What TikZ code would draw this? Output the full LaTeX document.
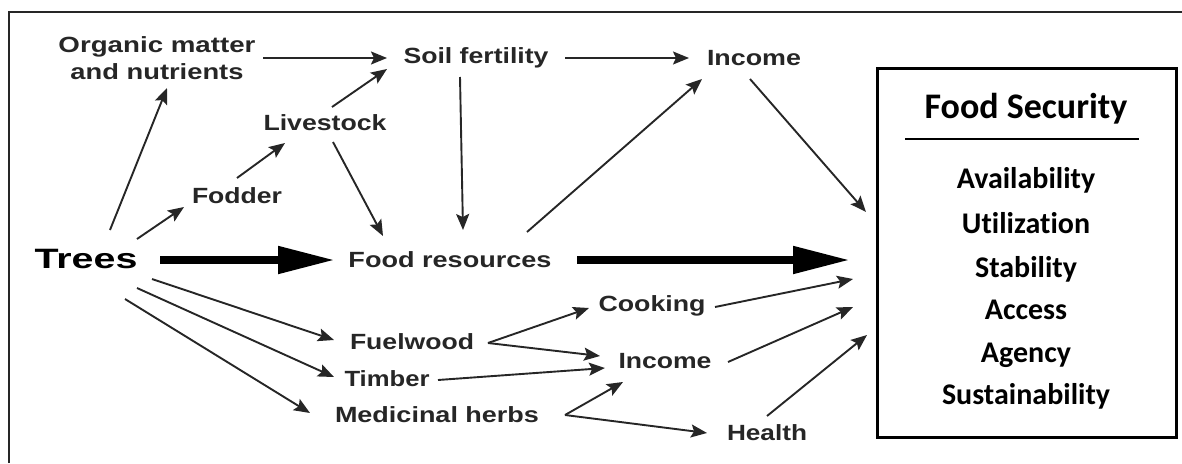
\documentclass[tikz,border=0pt]{standalone}
\usepackage{fontspec}
\setmainfont{Liberation Sans}
\newfontfamily\calibfont[Ligatures=NoCommon]{Carlito}
\usetikzlibrary{arrows.meta}

\definecolor{ink}{HTML}{262626}

% stretch a label horizontally to a given width, keeping its height
\newcommand{\wtext}[2]{\resizebox{#1pt}{\height}{#2}}

\tikzset{
  lbl/.style={font=\bfseries\fontsize{22}{27}\selectfont, text=ink, inner sep=0pt, align=center},
  arr/.style={draw=ink, line width=1.9pt, -{Stealth[length=16pt,width=13pt,inset=3pt]}},
  bigarr/.style={draw=black, line width=8pt, -{Triangle[length=57pt,width=26pt]}},
  fsitem/.style={font=\calibfont\bfseries\fontsize{30}{32}\selectfont, inner sep=0pt, anchor=base},
}

\begin{document}
\begin{tikzpicture}[x=1pt,y=-1pt]
\useasboundingbox (0,0) rectangle (1182,463);

% open frame: top and left edges
\draw[ink, line width=2pt] (9,463) -- (9,12) -- (1182,12);

% labels
\node[lbl] (org)  at (157,58)  {\wtext{197}{Organic matter}\\\wtext{173}{and nutrients}};
\node[lbl] (soil) at (476,58)  {\wtext{145}{Soil fertility}};
\node[lbl] (inc1) at (754,58)  {\wtext{94}{Income}};
\node[lbl] (live) at (325,123) {\wtext{123}{Livestock}};
\node[lbl] (fod)  at (237,196) {\wtext{90}{Fodder}};
\node[lbl, font=\bfseries\fontsize{28}{30}\selectfont, text=black] (trees) at (86,259) {\wtext{103}{Trees}};
\node[lbl] (food) at (450,260) {\wtext{203}{Food resources}};
\node[lbl] (fuel) at (412,342) {\wtext{124}{Fuelwood}};
\node[lbl] (timb) at (387,379) {\wtext{85}{Timber}};
\node[lbl] (med)  at (437,415) {\wtext{204}{Medicinal herbs}};
\node[lbl] (cook) at (652,306) {\wtext{107}{Cooking}};
\node[lbl] (inc2) at (665,361) {\wtext{93}{Income}};
\node[lbl] (hlth) at (767,433) {\wtext{80}{Health}};

% food security box
\node[draw=black, line width=3pt, minimum width=299pt, minimum height=369pt, inner sep=0pt] (fs) at (1026.5,252.5) {};
\node[font=\calibfont\bfseries\fontsize{36}{38}\selectfont, inner sep=0pt, anchor=base] (fstitle) at (1026,118) {Food Security};
\draw[black, line width=2pt] ([shift={(-121,21)}]fstitle.base) -- ([shift={(113,21)}]fstitle.base);
\node[fsitem] (av) at (1026,188) {Availability};
\node[fsitem] (ut) at (1026,233) {Utilization};
\node[fsitem] (st) at (1026,277) {Stability};
\node[fsitem] (ac) at (1026,319) {Access};
\node[fsitem] (ag) at (1026,362) {Agency};
\node[fsitem] (su) at (1026,404) {Sustainability};

% arrow ends in front of the box
\coordinate (e1) at (866,212);
\coordinate (e2) at (850,260);
\coordinate (e3) at (853,279);
\coordinate (e4) at (853,307);
\coordinate (e5) at (867,335);

% thick main flow
\draw[bigarr] ([shift={(74,1)}]trees.center) -- ([shift={(-115,0)}]food.center);
\draw[bigarr] ([shift={(127,0)}]food.center) -- (e2);

% upper branch
\draw[arr] ([shift={(24,-29)}]trees.center) -- ([shift={(10,30)}]org.center);
\draw[arr] ([shift={(51,-20)}]trees.center) -- ([shift={(-53,11)}]fod.center);
\draw[arr] ([shift={(0,-18)}]fod.center) -- ([shift={(-40,20)}]live.center);
\draw[arr] ([shift={(106,0)}]org.center) -- ([shift={(-89,0)}]soil.center);
\draw[arr] ([shift={(7,-16)}]live.center) -- ([shift={(-89,11)}]soil.center);
\draw[arr] ([shift={(8,19)}]live.center) -- ([shift={(-67,-24)}]food.center);
\draw[arr] ([shift={(-16,19)}]soil.center) -- ([shift={(13,-30)}]food.center);
\draw[arr] ([shift={(89,0)}]soil.center) -- ([shift={(-65,0)}]inc1.center);
\draw[arr] ([shift={(77,-28)}]food.center) -- ([shift={(-52,21)}]inc1.center);
\draw[arr] ([shift={(-4,21)}]inc1.center) -- (e1);

% lower branch
\draw[arr] ([shift={(66,20)}]trees.center) -- ([shift={(-78,-2)}]fuel.center);
\draw[arr] ([shift={(51,29)}]trees.center) -- ([shift={(-53,-2)}]timb.center);
\draw[arr] ([shift={(39,40)}]trees.center) -- ([shift={(-127,-2)}]med.center);
\draw[arr] ([shift={(76,1)}]fuel.center) -- ([shift={(-63,2)}]cook.center);
\draw[arr] ([shift={(76,1)}]fuel.center) -- ([shift={(-65,-5)}]inc2.center);
\draw[arr] ([shift={(51,1)}]timb.center) -- ([shift={(-60,7)}]inc2.center);
\draw[arr] ([shift={(128,0)}]med.center) -- ([shift={(-42,21)}]inc2.center);
\draw[arr] ([shift={(128,0)}]med.center) -- ([shift={(-60,0)}]hlth.center);
\draw[arr] ([shift={(63,1)}]cook.center) -- (e3);
\draw[arr] ([shift={(63,1)}]inc2.center) -- (e4);
\draw[arr] ([shift={(0,-17)}]hlth.center) -- (e5);
\end{tikzpicture}
\end{document}
